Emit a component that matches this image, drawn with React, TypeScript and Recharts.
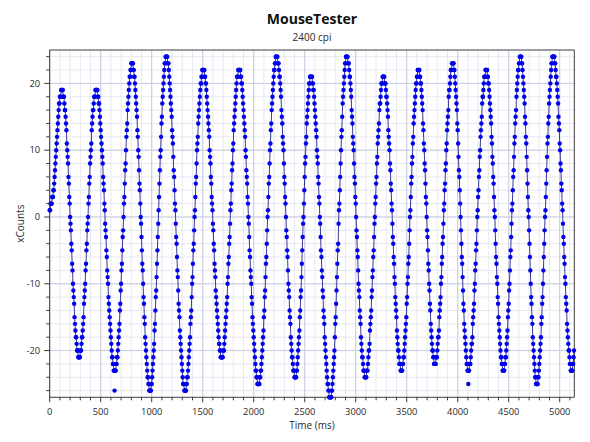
import React from 'react';
import { ComposedChart, Line, Scatter, XAxis, YAxis, CartesianGrid, ReferenceLine } from 'recharts';

// ---- data ----
const SAMPLE_START_MS = 0;
const SAMPLE_INTERVAL_MS = 4;
const xCounts: number[] = [
  1,1,2,2,2,2,3,3,3,4,4,5,6,7,8,9,10,11,12,13,14,15,16,17,17,18,18,18,19,19,19,
  19,19,18,18,18,17,16,16,15,14,13,11,10,9,8,6,5,3,2,0,-1,-2,-4,-5,-7,-8,-10,-11,-12,-13,-15,-16,-17,-18,-18,-19,-20,-20,-20,-21,-21,-21,
  -21,-21,-20,-20,-20,-19,-18,-18,-17,-16,-15,-13,-12,-11,-10,-8,-7,-5,-4,-2,-1,0,2,3,5,6,8,9,10,11,13,14,15,16,16,17,18,18,18,19,19,19,
  19,19,19,18,18,17,17,16,15,14,13,12,11,10,9,8,6,5,4,2,1,-1,-2,-3,-5,-6,-8,-9,-10,-12,-13,-14,-15,-16,-17,-18,-19,-20,-21,-21,-22,-22,-23,-23,-23,-23,
  -23,-23,-22,-22,-21,-21,-20,-19,-18,-17,-16,-14,-13,-11,-10,-8,-7,-5,-3,-2,0,2,3,5,7,8,10,12,13,14,16,17,18,19,20,21,21,22,22,23,23,23,
  23,23,22,22,21,21,20,19,18,17,16,15,13,12,10,9,7,5,4,2,0,-1,-3,-5,-7,-8,-10,-12,-13,-15,-16,-18,-19,-20,-21,-22,-23,-24,-24,-25,-25,-26,-26,-26,
  -26,-26,-25,-25,-24,-23,-22,-21,-20,-19,-17,-16,-14,-12,-11,-9,-7,-5,-3,-1,1,3,5,7,9,10,12,14,15,17,18,19,20,21,22,23,23,24,24,24,
  24,24,23,23,23,22,21,20,19,18,17,16,15,13,12,11,9,7,6,4,2,1,-1,-3,-4,-6,-8,-9,-11,-13,-14,-15,-17,-18,-19,-20,-21,-22,-23,-24,-25,-25,-25,-26,-26,-26,
  -26,-26,-25,-25,-24,-24,-23,-22,-21,-20,-19,-18,-16,-15,-14,-12,-10,-9,-7,-5,-4,-2,0,1,3,5,6,8,10,11,12,14,15,16,17,18,19,20,20,21,21,22,22,22,
  22,22,22,21,21,20,20,19,18,17,16,15,14,13,12,10,9,8,6,5,3,2,1,-1,-2,-4,-5,-7,-8,-9,-11,-12,-13,-14,-15,-16,-17,-18,-19,-19,-20,-20,-21,-21,-21,-21,
  -21,-21,-20,-20,-20,-19,-18,-17,-16,-15,-14,-13,-12,-10,-9,-7,-6,-4,-3,-1,1,2,4,5,7,8,10,11,13,14,15,16,17,18,19,20,21,21,21,22,22,22,
  22,22,22,21,21,20,20,19,18,17,16,15,14,13,12,10,9,7,6,5,3,2,0,-1,-3,-5,-6,-8,-9,-10,-12,-13,-15,-16,-17,-18,-19,-20,-21,-22,-23,-23,-24,-24,-25,-25,-25,-25,
  -25,-25,-24,-24,-23,-23,-22,-21,-20,-19,-18,-17,-15,-14,-12,-11,-9,-7,-6,-4,-2,0,1,3,5,6,8,10,11,13,14,16,17,18,19,20,21,22,22,23,23,24,24,24,
  24,24,23,23,23,22,21,21,20,19,18,16,15,14,12,11,10,8,6,5,3,2,0,-2,-3,-5,-6,-8,-10,-11,-12,-14,-15,-16,-18,-19,-20,-21,-21,-22,-23,-23,-23,-24,-24,-24,
  -24,-24,-23,-23,-22,-21,-20,-19,-18,-17,-15,-14,-12,-11,-9,-7,-5,-3,-1,0,2,4,6,8,9,11,12,14,15,16,17,18,19,20,20,21,21,21,
  21,21,21,20,20,19,19,18,17,16,15,14,13,12,10,9,8,6,5,3,2,0,-1,-3,-5,-6,-8,-9,-11,-12,-14,-15,-16,-18,-19,-20,-21,-22,-23,-24,-25,-25,-26,-26,-27,-27,-27,-27,
  -27,-27,-26,-26,-25,-24,-23,-22,-21,-20,-18,-16,-15,-13,-11,-9,-7,-5,-4,-1,1,2,4,6,8,10,12,13,15,17,18,19,20,21,22,23,23,24,24,24,
  24,24,23,23,23,22,21,21,20,19,18,16,15,14,12,11,10,8,6,5,3,2,0,-2,-3,-5,-6,-8,-10,-11,-12,-14,-15,-16,-18,-19,-20,-21,-21,-22,-23,-23,-23,-24,-24,-24,
  -24,-24,-23,-23,-23,-22,-21,-20,-20,-19,-17,-16,-15,-14,-12,-11,-9,-8,-6,-5,-3,-1,0,2,3,5,6,8,9,11,12,13,14,16,17,17,18,19,20,20,20,21,21,21,
  21,21,20,20,20,19,18,18,17,16,15,13,12,11,10,8,7,5,4,2,1,-1,-3,-4,-6,-7,-9,-10,-12,-13,-14,-15,-17,-18,-19,-20,-20,-21,-22,-22,-22,-23,-23,-23,
  -23,-23,-22,-22,-21,-21,-20,-19,-18,-17,-16,-15,-13,-12,-10,-9,-7,-6,-4,-2,0,1,3,5,6,8,9,11,12,14,15,16,17,18,19,20,20,21,21,22,22,22,
  22,22,21,21,20,20,19,18,17,16,14,13,11,10,8,7,5,3,2,0,-2,-3,-5,-7,-8,-10,-11,-13,-14,-16,-17,-18,-19,-20,-20,-21,-21,-22,-22,-22,
  -22,-22,-21,-21,-21,-20,-19,-18,-18,-17,-15,-14,-13,-12,-10,-9,-7,-6,-4,-3,-1,1,2,4,5,7,8,10,11,13,14,15,16,18,19,19,20,21,22,22,22,23,23,23,
  23,23,22,22,21,20,19,18,17,16,14,13,11,9,7,6,4,2,0,-2,-4,-6,-7,-9,-11,-13,-14,-16,-17,-18,-19,-20,-21,-22,-22,-23,-23,-23,
  -23,-23,-22,-22,-22,-21,-20,-19,-19,-18,-16,-15,-14,-13,-11,-10,-8,-7,-5,-4,-2,0,1,3,4,6,7,9,10,12,13,14,15,17,18,18,19,20,21,21,21,22,22,22,
  22,22,21,21,20,20,19,18,17,16,15,14,12,11,9,8,6,5,3,1,0,-2,-4,-6,-7,-9,-10,-12,-13,-15,-16,-17,-18,-19,-20,-21,-21,-22,-22,-23,-23,-23,
  -23,-23,-22,-22,-21,-21,-20,-19,-18,-17,-15,-14,-13,-11,-10,-8,-6,-5,-3,-1,1,2,4,6,7,9,11,12,14,15,16,18,19,20,21,22,22,23,23,24,24,24,
  24,24,23,23,22,21,20,19,18,17,15,14,12,11,9,7,5,3,1,0,-2,-4,-6,-8,-10,-12,-13,-15,-16,-18,-19,-20,-21,-22,-23,-24,-24,-25,-25,-25,
  -25,-25,-24,-24,-23,-22,-21,-20,-19,-18,-16,-15,-13,-12,-10,-8,-6,-4,-2,0,1,3,5,7,9,11,12,14,15,17,18,19,20,21,22,23,23,24,24,24,
  24,24,24,23,23,22,21,21,20,19,18,17,15,14,13,11,10,8,7,5,4,2,1,-1,-3,-4,-6,-7,-9,-10,-12,-13,-14,-16,-17,-18,-19,-20,-20,-21,-22,-22,-23,-23,-23,-23,
  -23,-22,-22,-21,-20,
];

// isolated single samples below the troughs
const outlierTimesMs = [636, 4104];
const outlierCounts = [-26, -25];

// ---- axes / ticks ----
const X_MIN = 0;
const X_MAX = 5143;
const Y_MIN = -27;
const Y_MAX = 25;
const xMajorTicks = [0, 500, 1000, 1500, 2000, 2500, 3000, 3500, 4000, 4500, 5000];
const xMinorTicks = [
  0, 100, 200, 300, 400, 500, 600, 700, 800, 900, 1000, 1100, 1200, 1300, 1400, 1500, 1600, 1700, 1800, 1900,
  2000, 2100, 2200, 2300, 2400, 2500, 2600, 2700, 2800, 2900, 3000, 3100, 3200, 3300, 3400, 3500, 3600, 3700,
  3800, 3900, 4000, 4100, 4200, 4300, 4400, 4500, 4600, 4700, 4800, 4900, 5000, 5100,
];
const yMajorTicks = [-20, -10, 0, 10, 20];
const yMinorTicks = [-26, -24, -22, -20, -18, -16, -14, -12, -10, -8, -6, -4, -2, 0, 2, 4, 6, 8, 10, 12, 14, 16, 18, 20, 22, 24];

const FONT = "'Open Sans', 'Noto Sans', 'DejaVu Sans', sans-serif";
const AXIS = '#3c3c3c';
const TEXT = '#2a2a2a';
const GRID_MAJOR = '#c9cce0';
const GRID_MINOR = '#e8e9f3';
const DOT = '#0000ee';
const LINE = '#24248c';

const data = xCounts.map((v, i) => ({ t: SAMPLE_START_MS + i * SAMPLE_INTERVAL_MS, v }));
const outliers = outlierTimesMs.map((t, i) => ({ t, v: outlierCounts[i] }));

const XTick = (props: any) => {
  const { x, y, payload } = props;
  const val = payload.value as number;
  const major = xMajorTicks.includes(val);
  return (
    <g>
      <line x1={x} x2={x} y1={y} y2={y + (major ? 5 : 3)} stroke={AXIS} strokeWidth={1} />
      {major && (
        <text x={x} y={y + 17.5} textAnchor="middle" fontSize={9.3} fill={TEXT} fontFamily={FONT}>
          {val}
        </text>
      )}
    </g>
  );
};

const YTick = (props: any) => {
  const { x, y, payload } = props;
  const val = payload.value as number;
  const major = yMajorTicks.includes(val);
  return (
    <g>
      <line x1={x} x2={x - (major ? 5.5 : 3.5)} y1={y} y2={y} stroke={AXIS} strokeWidth={1} />
      {major && (
        <text x={x - 9.5} y={y + 3.3} textAnchor="end" fontSize={9.3} fill={TEXT} fontFamily={FONT}>
          {val}
        </text>
      )}
    </g>
  );
};

const W = 576;
const H = 426;
const MARGIN = { top: 42, right: 9.7, bottom: 4.7, left: 0 };
const Y_AXIS_W = 41.7;

export default function App() {
  const plotLeft = MARGIN.left + Y_AXIS_W;
  const plotWidth = W - plotLeft - MARGIN.right;
  return (
    <div style={{ position: 'relative', width: W, height: H, fontFamily: FONT, background: '#fff' }}>
      <div
        style={{
          position: 'absolute', left: plotLeft, width: plotWidth, top: 3, textAlign: 'center',
          fontSize: 14, lineHeight: '15px', fontWeight: 700, color: '#111', whiteSpace: 'nowrap',
        }}
      >
        MouseTester
      </div>
      <div
        style={{
          position: 'absolute', left: plotLeft, width: plotWidth, top: 23.5, textAlign: 'center',
          fontSize: 10, lineHeight: '11px', color: TEXT, whiteSpace: 'nowrap',
        }}
      >
        2400 cpi
      </div>
      <ComposedChart width={W} height={H} data={data} margin={MARGIN}>
        <CartesianGrid verticalValues={xMinorTicks} horizontalValues={yMinorTicks} stroke={GRID_MINOR} strokeWidth={1} />
        <CartesianGrid verticalValues={xMajorTicks} horizontalValues={yMajorTicks} stroke={GRID_MAJOR} strokeWidth={1} />
        <XAxis
          type="number"
          dataKey="t"
          domain={[X_MIN, X_MAX]}
          ticks={xMinorTicks}
          interval={0}
          tick={<XTick />}
          tickLine={false}
          tickSize={0}
          tickMargin={0}
          axisLine={{ stroke: AXIS }}
          height={32}
          label={{ value: 'Time (ms)', position: 'insideBottom', offset: 0, fontSize: 10, fill: TEXT, fontFamily: FONT }}
        />
        <YAxis
          type="number"
          domain={[Y_MIN, Y_MAX]}
          ticks={yMinorTicks}
          interval={0}
          tick={<YTick />}
          tickLine={false}
          tickSize={0}
          tickMargin={0}
          axisLine={{ stroke: AXIS }}
          width={Y_AXIS_W}
          label={{
            value: 'xCounts', angle: -90, position: 'insideLeft', offset: 12,
            fontSize: 10, fill: TEXT, fontFamily: FONT, style: { textAnchor: 'middle' },
          }}
        />
        <ReferenceLine y={Y_MAX} stroke={AXIS} strokeWidth={1} />
        <ReferenceLine x={X_MAX} stroke={AXIS} strokeWidth={1} />
        <Line
          type="linear"
          dataKey="v"
          stroke={LINE}
          strokeWidth={0.9}
          dot={{ r: 2.2, fill: DOT, stroke: 'none', strokeWidth: 0 }}
          activeDot={false}
          isAnimationActive={false}
        />
        <Scatter
          data={outliers}
          dataKey="v"
          isAnimationActive={false}
          shape={(p: any) => <circle cx={p.cx} cy={p.cy} r={2.2} fill={DOT} />}
        />
      </ComposedChart>
    </div>
  );
}
